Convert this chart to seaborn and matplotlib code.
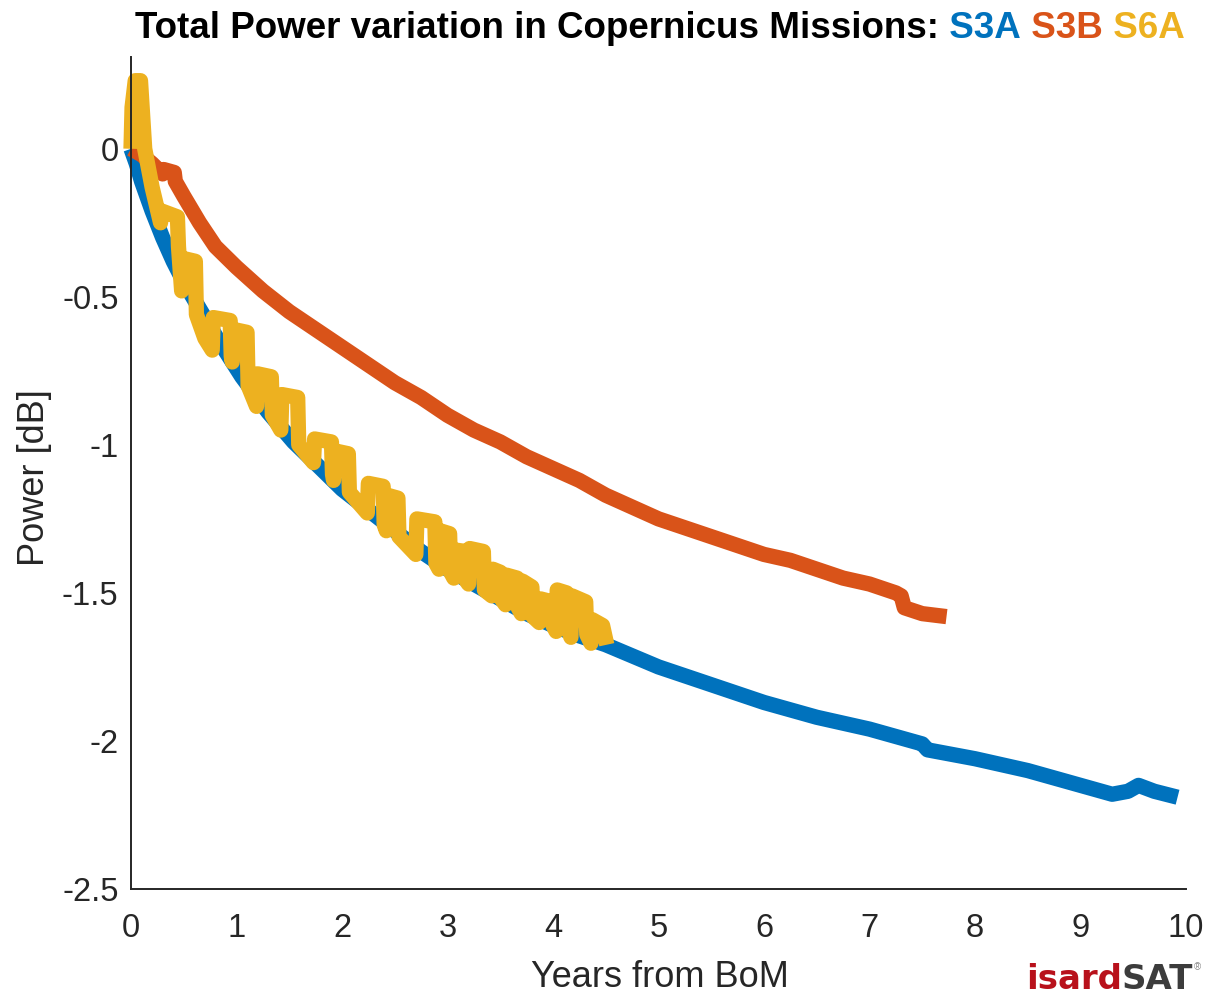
# Total power variation of the Copernicus altimeter missions (S3A, S3B, S6A)
import numpy as np
import pandas as pd
import matplotlib
matplotlib.use("Agg")
import matplotlib.pyplot as plt
import seaborn as sns

# ---- data ----
s3a_years = [0, 0.05, 0.1, 0.2, 0.3, 0.4, 0.5, 0.65, 0.8, 1.05, 1.3, 1.54, 1.8,
             2.0, 2.25, 2.5, 2.75, 3.0, 3.25, 3.5, 3.75, 4.0, 4.25, 4.5, 5.0, 5.5,
             6.0, 6.5, 7.0, 7.5, 7.55, 8.0, 8.5, 9.0, 9.3, 9.45, 9.55, 9.7, 9.92]
s3a_power = [0, -0.05, -0.11, -0.21, -0.30, -0.38, -0.45, -0.54, -0.63, -0.77,
             -0.89, -0.99, -1.08, -1.15, -1.22, -1.29, -1.36, -1.42, -1.47, -1.52,
             -1.57, -1.61, -1.645, -1.675, -1.75, -1.81, -1.87, -1.92, -1.96, -2.01,
             -2.03, -2.06, -2.10, -2.15, -2.18, -2.17, -2.15, -2.17, -2.19]

s3b_years = [0, 0.1, 0.2, 0.3, 0.31, 0.41, 0.42, 0.5, 0.65, 0.8, 1.0, 1.25, 1.5, 1.75,
             2.0, 2.25, 2.5, 2.75, 3.0, 3.25, 3.5, 3.75, 4.0, 4.25, 4.5, 4.75, 5.0,
             5.25, 5.5, 5.75, 6.0, 6.25, 6.5, 6.75, 7.0, 7.25, 7.3, 7.33, 7.5, 7.73]
s3b_power = [0, -0.02, -0.05, -0.085, -0.07, -0.08, -0.11, -0.16, -0.25, -0.33, -0.40,
             -0.48, -0.55, -0.61, -0.67, -0.73, -0.79, -0.84, -0.90, -0.95, -0.99,
             -1.04, -1.08, -1.12, -1.17, -1.21, -1.25, -1.28, -1.31, -1.34, -1.37,
             -1.39, -1.42, -1.45, -1.47, -1.50, -1.51, -1.55, -1.57, -1.58]

s6a_years = [0.00, 0.01, 0.04, 0.09, 0.13, 0.20, 0.28, 0.29, 0.44, 0.45, 0.48, 0.49,
             0.61, 0.62, 0.70, 0.77, 0.78, 0.94, 0.95, 0.96, 0.97, 1.10, 1.11, 1.19,
             1.20, 1.33, 1.34, 1.42, 1.43, 1.58, 1.59, 1.73, 1.74, 1.90, 1.91, 1.92,
             1.93, 2.06, 2.07, 2.24, 2.25, 2.39, 2.40, 2.42, 2.43, 2.53, 2.54, 2.70,
             2.71, 2.88, 2.89, 2.92, 2.93, 3.02, 3.03, 3.06, 3.07, 3.17, 3.18, 3.20,
             3.21, 3.34, 3.35, 3.42, 3.43, 3.50, 3.51, 3.55, 3.56, 3.66, 3.67, 3.70,
             3.71, 3.80, 3.81, 3.87, 3.88, 3.99, 4.00, 4.03, 4.04, 4.13, 4.14, 4.17,
             4.18, 4.31, 4.32, 4.36, 4.37, 4.47, 4.51]
s6a_power = [0.00, 0.14, 0.23, 0.23, 0.00, -0.13, -0.25, -0.21, -0.23, -0.33, -0.48,
             -0.37, -0.38, -0.56, -0.64, -0.68, -0.57, -0.58, -0.70, -0.72, -0.61,
             -0.62, -0.80, -0.87, -0.76, -0.77, -0.90, -0.95, -0.83, -0.84, -1.00,
             -1.06, -0.98, -0.99, -1.10, -1.12, -1.02, -1.03, -1.16, -1.23, -1.13,
             -1.14, -1.27, -1.29, -1.17, -1.18, -1.31, -1.37, -1.25, -1.26, -1.40,
             -1.42, -1.29, -1.30, -1.43, -1.45, -1.355, -1.36, -1.46, -1.47, -1.35,
             -1.36, -1.49, -1.51, -1.42, -1.43, -1.52, -1.54, -1.44, -1.45, -1.55,
             -1.57, -1.46, -1.48, -1.58, -1.60, -1.52, -1.53, -1.61, -1.63, -1.49,
             -1.50, -1.62, -1.65, -1.51, -1.53, -1.64, -1.67, -1.59, -1.61, -1.675]

x_ticks = [0, 1, 2, 3, 4, 5, 6, 7, 8, 9, 10]
y_ticks = [-2.5, -2, -1.5, -1, -0.5, 0]
y_tick_labels = ["-2.5", "-2", "-1.5", "-1", "-0.5", "0"]

missions = ["S3A", "S3B", "S6A"]
colors = {"S3A": "#0072BD", "S3B": "#D95319", "S6A": "#EDB120"}

df = pd.concat([
    pd.DataFrame({"years": s3a_years, "power": s3a_power, "mission": "S3A"}),
    pd.DataFrame({"years": s3b_years, "power": s3b_power, "mission": "S3B"}),
    pd.DataFrame({"years": s6a_years, "power": s6a_power, "mission": "S6A"}),
], ignore_index=True)

# ---- style ----
sns.set_theme(style="white")
plt.rcParams["font.family"] = ["Liberation Sans", "DejaVu Sans"]
axis_gray = "#262626"

W, H = 1227, 994
fig = plt.figure(figsize=(W / 100, H / 100), dpi=100)
ax = fig.add_axes([131 / W, 1 - 889 / H, (1186 - 131) / W, (889 - 57) / H])

for m in missions:
    sub = df[df["mission"] == m]
    sns.lineplot(data=sub, x="years", y="power", ax=ax, color=colors[m],
                 linewidth=11, estimator=None, sort=False, legend=False)
for line in ax.lines:
    line.set_clip_on(False)
    line.set_solid_capstyle("butt")
    line.set_solid_joinstyle("round")

ax.set_xlim(0, 10)
ax.set_ylim(-2.5, 0.31)
ax.set_xticks(x_ticks)
ax.set_xticklabels([str(t) for t in x_ticks])
ax.set_yticks(y_ticks)
ax.set_yticklabels(y_tick_labels)
ax.set_xlabel("")
ax.set_ylabel("")

sns.despine(ax=ax)
for s in ["left", "bottom"]:
    ax.spines[s].set_color(axis_gray)
    ax.spines[s].set_linewidth(1.4)
ax.tick_params(direction="in", length=7, width=1.3, colors=axis_gray,
               labelsize=23.5)
ax.tick_params(axis="x", pad=17)
ax.tick_params(axis="y", pad=9)

# axis labels
fig.text(660 / W, 1 - 987 / H, "Years from BoM", ha="center", va="baseline",
         fontsize=26, color=axis_gray)
fig.text(35 / W, 1 - 478 / H, "Power [dB]", ha="center", va="center",
         rotation=90, fontsize=26, color=axis_gray)

# multi-coloured title
fig.canvas.draw()
renderer = fig.canvas.get_renderer()
title_parts = [("Total Power variation in Copernicus Missions:", "black"),
               (" S3A", colors["S3A"]), (" S3B", colors["S3B"]), (" S6A", colors["S6A"])]
texts = []
for txt, col in title_parts:
    t = fig.text(0, 1 - 38 / H, txt, ha="left", va="baseline", fontsize=26.5,
                 fontweight="bold", color=col)
    texts.append(t)
widths = [t.get_window_extent(renderer).width for t in texts]
x0 = 660 - sum(widths) / 2
for t, w in zip(texts, widths):
    t.set_x(x0 / W)
    x0 += w

# logo
logo_parts = [("isard", "#B8111B"), ("SAT", "#3C3C3C")]
x0 = 1026
for txt, col in logo_parts:
    t = fig.text(x0 / W, 1 - 989 / H, txt, ha="left", va="baseline", fontsize=24.5,
                 fontweight="bold", color=col, family="DejaVu Sans")
    x0 += t.get_window_extent(renderer).width
fig.text((x0 + 1) / W, 1 - 970 / H, "®", ha="left", va="baseline", fontsize=7,
         color="#888888")

fig.savefig("out.png", dpi=100)
